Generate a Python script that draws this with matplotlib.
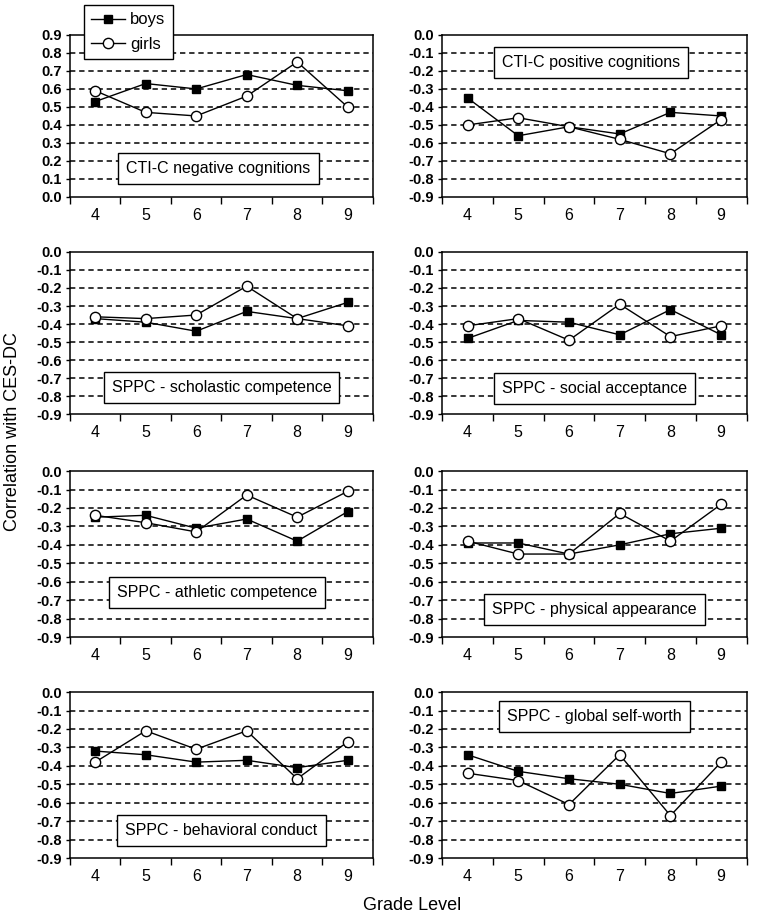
import numpy as np
import matplotlib.pyplot as plt
from matplotlib.ticker import MultipleLocator, FixedLocator

plt.rcParams['font.family'] = ['Liberation Sans', 'DejaVu Sans']

grades = [4, 5, 6, 7, 8, 9]

titles = ["CTI-C negative cognitions", "CTI-C positive cognitions",
          "SPPC - scholastic competence", "SPPC - social acceptance",
          "SPPC - athletic competence", "SPPC - physical appearance",
          "SPPC - behavioral conduct", "SPPC - global self-worth"]

boys_neg = [0.53, 0.63, 0.60, 0.68, 0.62, 0.59]
girls_neg = [0.59, 0.47, 0.45, 0.56, 0.75, 0.50]
boys_pos = [-0.35, -0.56, -0.51, -0.55, -0.43, -0.45]
girls_pos = [-0.50, -0.46, -0.51, -0.58, -0.66, -0.47]
boys_sch = [-0.37, -0.39, -0.44, -0.33, -0.37, -0.28]
girls_sch = [-0.36, -0.37, -0.35, -0.19, -0.37, -0.41]
boys_soc = [-0.48, -0.38, -0.39, -0.46, -0.32, -0.46]
girls_soc = [-0.41, -0.37, -0.49, -0.29, -0.47, -0.41]
boys_ath = [-0.25, -0.24, -0.31, -0.26, -0.38, -0.22]
girls_ath = [-0.24, -0.28, -0.33, -0.13, -0.25, -0.11]
boys_phy = [-0.39, -0.39, -0.45, -0.40, -0.34, -0.31]
girls_phy = [-0.38, -0.45, -0.45, -0.23, -0.38, -0.18]
boys_beh = [-0.32, -0.34, -0.38, -0.37, -0.41, -0.37]
girls_beh = [-0.38, -0.21, -0.31, -0.21, -0.47, -0.27]
boys_glo = [-0.34, -0.43, -0.47, -0.50, -0.55, -0.51]
girls_glo = [-0.44, -0.48, -0.61, -0.34, -0.67, -0.38]

boys = [boys_neg, boys_pos, boys_sch, boys_soc, boys_ath, boys_phy, boys_beh, boys_glo]
girls = [girls_neg, girls_pos, girls_sch, girls_soc, girls_ath, girls_phy, girls_beh, girls_glo]

# label box centres (axes fraction)
box_pos = [(0.49, 0.175), (0.49, 0.83), (0.50, 0.165), (0.50, 0.16),
           (0.485, 0.27), (0.50, 0.166), (0.50, 0.166), (0.50, 0.85)]

fig = plt.figure(figsize=(7.61, 9.17), dpi=100)

col_left = [0.092, 0.581]
col_w = [0.398, 0.400]
row_bot = [0.7852, 0.5485, 0.3053, 0.0643]
row_h = [0.1767, 0.1767, 0.181, 0.181]

for i in range(8):
    r, c = i // 2, i % 2
    ax = fig.add_axes([col_left[c], row_bot[r], col_w[c], row_h[r]])
    if i == 0:
        ax.set_ylim(0, 0.9)
    else:
        ax.set_ylim(-0.9, 0)
    ax.set_xlim(3.5, 9.5)
    ax.yaxis.set_major_locator(MultipleLocator(0.1))
    ax.set_yticklabels(["%.1f" % v for v in ax.get_yticks()])
    lo, hi = ax.get_ylim()
    for g in np.arange(lo + 0.1, hi - 0.05, 0.1):
        ax.axhline(g, color='black', lw=1.1, ls=(0, (3.5, 2.5)), zorder=1)
    ax.xaxis.set_major_locator(FixedLocator(np.arange(3.5, 10, 1)))
    ax.xaxis.set_minor_locator(FixedLocator(grades))
    ax.xaxis.set_major_formatter(plt.NullFormatter())
    ax.set_xticklabels([str(g) for g in grades], minor=True)
    ax.tick_params(axis='x', which='major', direction='out', length=5, width=1)
    ax.tick_params(axis='x', which='minor', length=0, pad=8, labelsize=11.5)
    ax.tick_params(axis='y', direction='out', length=3, width=1, pad=3, labelsize=10.5)
    for lab in ax.get_yticklabels():
        lab.set_fontweight('bold')
    for sp in ax.spines.values():
        sp.set_linewidth(1.1)
    ax.plot(grades, boys[i], color='black', lw=1, marker='s', ms=5.2,
            mfc='black', mec='black', label='boys', zorder=3)
    ax.plot(grades, girls[i], color='black', lw=1, marker='o', ms=7.4,
            mfc='white', mec='black', mew=1, label='girls', zorder=4)
    ax.text(box_pos[i][0], box_pos[i][1], titles[i], transform=ax.transAxes,
            ha='center', va='center', fontsize=11.5, zorder=5,
            bbox=dict(boxstyle='square,pad=0.5', fc='white', ec='black', lw=1))
    if i == 0:
        leg = ax.legend(loc='upper left', bbox_to_anchor=(0.046, 1.185),
                        borderaxespad=0, fancybox=False, edgecolor='black',
                        framealpha=1, fontsize=12, handlelength=2.0,
                        handletextpad=0.3, borderpad=0.45, labelspacing=0.55)
        leg.get_frame().set_linewidth(1)
        leg.set_zorder(10)

fig.text(0.016, 0.529, "Correlation with CES-DC", rotation=90,
         ha='center', va='center', fontsize=13)
fig.text(0.542, 0.013, "Grade Level", ha='center', va='center', fontsize=13)

fig.savefig("out.png", dpi=100)
